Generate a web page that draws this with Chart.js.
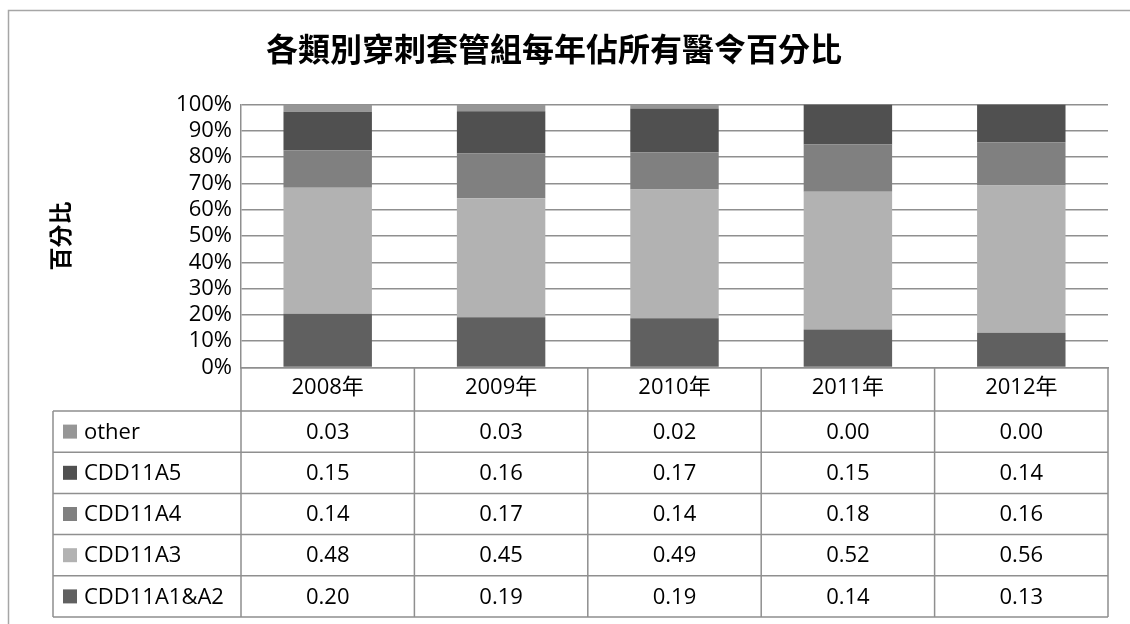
<!DOCTYPE html>
<html>
<head>
<meta charset="utf-8">
<script src="https://cdn.jsdelivr.net/npm/chart.js@4.4.1/dist/chart.umd.min.js"></script>
<style>
  body { margin: 0; background: #fff; }
</style>
</head>
<body>
<canvas id="myChart" width="1130" height="624"></canvas>
<script>
const years = ['2008年', '2009年', '2010年', '2011年', '2012年'];
const yTickLabels = ['0%', '10%', '20%', '30%', '40%', '50%', '60%', '70%', '80%', '90%', '100%'];

const a1a2 = [0.204, 0.191, 0.187, 0.144, 0.132];
const a3 = [0.479, 0.452, 0.490, 0.524, 0.560];
const a4 = [0.143, 0.170, 0.141, 0.180, 0.164];
const a5 = [0.146, 0.161, 0.166, 0.152, 0.144];
const other = [0.028, 0.026, 0.016, 0.000, 0.000];

const LINE = '#8f8f8f';
const FONT = "'Open Sans', 'Noto Sans CJK TC', sans-serif";

// data table under the plot, columns follow the x scale
const tablePlugin = {
  id: 'dataTable',
  beforeDraw(chart) {
    const c = chart.ctx;
    c.save();
    c.strokeStyle = '#a6a6a6';
    c.lineWidth = 1.5;
    c.beginPath();
    c.moveTo(8.5, 624);
    c.lineTo(8.5, 10.5);
    c.lineTo(1130, 10.5);
    c.stroke();
    c.restore();
  },
  afterDraw(chart) {
    const c = chart.ctx;
    const area = chart.chartArea;
    const n = years.length;
    const colW = (area.right - area.left) / n;
    const headBottom = 411;
    const rowH = 41.2;
    const legendLeft = 53;
    const sets = chart.data.datasets.slice().reverse();
    const tableBottom = headBottom + rowH * sets.length;

    c.save();
    c.strokeStyle = LINE;
    c.lineWidth = 1.5;
    c.beginPath();
    for (let i = 0; i <= n; i++) {
      const x = area.left + i * colW;
      c.moveTo(x, area.bottom);
      c.lineTo(x, tableBottom);
    }
    c.moveTo(legendLeft, headBottom);
    c.lineTo(legendLeft, tableBottom);
    for (let r = 0; r <= sets.length; r++) {
      const y = headBottom + r * rowH;
      c.moveTo(legendLeft, y);
      c.lineTo(area.right, y);
    }
    c.stroke();

    c.font = '22px ' + FONT;
    c.fillStyle = '#000';
    c.textBaseline = 'middle';
    sets.forEach(function(ds, r) {
      const cy = headBottom + r * rowH + rowH / 2;
      c.fillStyle = ds.backgroundColor;
      c.fillRect(63, cy - 7, 14, 14);
      c.fillStyle = '#000';
      c.textAlign = 'left';
      c.fillText(ds.label, 84, cy + 1);
      c.textAlign = 'center';
      ds.data.forEach(function(v, i) {
        c.fillText(v.toFixed(2), area.left + (i + 0.5) * colW, cy + 1);
      });
    });
    c.restore();
  }
};

const ctx = document.getElementById('myChart').getContext('2d');

const chart = new Chart(ctx, {
  type: 'bar',
  data: {
    labels: years,
    datasets: [
      { label: 'CDD11A1&A2', backgroundColor: '#606060', data: a1a2 },
      { label: 'CDD11A3', backgroundColor: '#b2b2b2', data: a3 },
      { label: 'CDD11A4', backgroundColor: '#808080', data: a4 },
      { label: 'CDD11A5', backgroundColor: '#505050', data: a5 },
      { label: 'other', backgroundColor: '#969696', data: other }
    ]
  },
  options: {
    responsive: false,
    animation: false,
    layout: { padding: { left: 0, top: 0, right: 22, bottom: 0 } },
    datasets: {
      bar: { categoryPercentage: 1, barPercentage: 0.51, borderWidth: 0 }
    },
    plugins: {
      legend: { display: false },
      tooltip: { enabled: false },
      title: {
        display: true,
        text: '各類別穿刺套管組每年佔所有醫令百分比',
        color: '#000',
        font: { family: "'Noto Sans CJK TC', sans-serif", size: 32, weight: 'bold' },
        padding: { top: 30, bottom: 36 }
      }
    },
    scales: {
      x: {
        stacked: true,
        grid: { display: false, drawTicks: false },
        border: { display: true, color: LINE, width: 1.5 },
        ticks: { color: '#000', padding: 7, font: { family: FONT, size: 22 } },
        afterFit: function(scale) { scale.height = 256.5; }
      },
      y: {
        stacked: true,
        min: 0,
        max: 1,
        grid: { color: LINE, lineWidth: 1.5, drawTicks: false },
        border: { display: true, color: LINE, width: 1.5 },
        ticks: {
          stepSize: 0.1,
          autoSkip: false,
          color: '#000',
          padding: 9,
          font: { family: FONT, size: 22, lineHeight: 1 },
          callback: function(v, i) { return yTickLabels[i]; }
        },
        title: {
          display: true,
          text: '百分比',
          color: '#000',
          font: { family: "'Noto Sans CJK TC', sans-serif", size: 23, weight: 'bold' },
          padding: { top: 46 }
        },
        afterFit: function(scale) { scale.width = 241; }
      }
    }
  },
  plugins: [tablePlugin]
});
</script>
</body>
</html>
